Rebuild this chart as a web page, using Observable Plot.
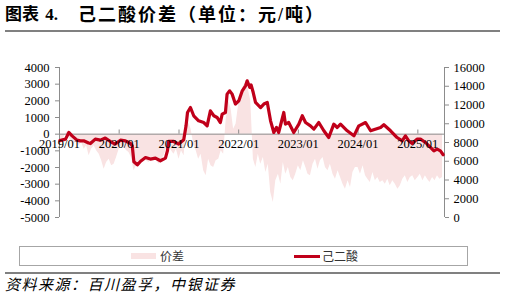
<!DOCTYPE html>
<html><head><meta charset="utf-8">
<script src="https://cdn.jsdelivr.net/npm/d3@7"></script>
<script src="https://cdn.jsdelivr.net/npm/@observablehq/plot@0.6"></script>
<style>
html,body{margin:0;padding:0;background:#fff}
body{width:505px;height:299px;position:relative;overflow:hidden}
.tt{position:absolute;top:3px;font-weight:bold;font-family:"Liberation Serif","Noto Sans CJK SC",serif;white-space:pre;color:#000;line-height:24px}
#title1{left:5px;font-size:17px;word-spacing:2px}
#title2{left:78px;font-size:18px;letter-spacing:2px}
.hr{position:absolute;left:5px;width:495px;height:2px;background:#808080}
#chart{position:absolute;left:0;top:33px}
#legend{position:absolute;left:19px;top:246px;width:447px;height:18px;border:1px solid #a6a6a6;box-sizing:content-box}
.lg{position:absolute;font-family:"Noto Sans CJK SC",sans-serif;font-size:12px;color:#333;top:1px;line-height:16px}
#source{position:absolute;left:5px;top:275px;font-family:"Noto Sans CJK SC",sans-serif;font-style:italic;font-size:15px;letter-spacing:1.5px;color:#000;line-height:18px}
</style></head><body>
<div id="title1" class="tt"></div>
<div id="title2" class="tt"></div>
<div class="hr" style="top:30px"></div>
<div id="chart"></div>
<div id="legend"></div>
<div class="hr" style="top:272px"></div>
<div id="source"></div>
<script>
const titleLabel = "图表 4.";
const titleText = "己二酸价差（单位：元/吨）";
const sourceText = "资料来源：百川盈孚，中银证券";
const seriesNames = ["价差", "己二酸"];

const leftTicks = [4000, 3000, 2000, 1000, 0, -1000, -2000, -3000, -4000, -5000];
const rightTicks = [16000, 14000, 12000, 10000, 8000, 6000, 4000, 2000, 0];
const yearDates = ["2019-01-01","2020-01-01","2021-01-01","2022-01-01","2023-01-01","2024-01-01","2025-01-01"];
const yearLabels = ["2019/01","2020/01","2021/01","2022/01","2023/01","2024/01","2025/01"];

// 己二酸 price (right axis, 元/吨)
const priceDates = ["2019-01-03","2019-02-07","2019-02-27","2019-03-19","2019-04-18","2019-05-09","2019-05-29","2019-06-28","2019-07-09","2019-08-08",
"2019-09-08","2019-10-08","2019-11-18","2019-12-08","2020-01-09","2020-02-08","2020-03-10","2020-03-21","2020-03-31","2020-04-21",
"2020-05-11","2020-06-10","2020-07-10","2020-08-10","2020-09-09","2020-10-10","2020-10-22","2020-10-30","2020-11-30","2020-12-30",
"2021-01-30","2021-02-13","2021-02-22","2021-03-12","2021-04-01","2021-05-01","2021-06-01","2021-06-22","2021-07-12","2021-08-02",
"2021-08-22","2021-09-11","2021-09-22","2021-10-12","2021-10-22","2021-11-07","2021-11-22","2021-12-12","2022-01-02","2022-01-23",
"2022-02-12","2022-02-22","2022-03-10","2022-03-18","2022-03-31","2022-04-14","2022-05-15","2022-06-04","2022-06-25","2022-07-15",
"2022-08-04","2022-08-20","2022-09-03","2022-10-04","2022-10-14","2022-11-03","2022-12-04","2023-01-04","2023-01-25","2023-02-14",
"2023-03-16","2023-04-06","2023-05-06","2023-06-06","2023-07-06","2023-08-06","2023-08-27","2023-09-16","2023-10-27","2023-12-07",
"2024-01-06","2024-02-16","2024-03-18","2024-05-18","2024-06-07","2024-07-18","2024-08-27","2024-09-27","2024-10-17","2024-11-06",
"2024-11-27","2024-12-27","2025-01-17","2025-02-17","2025-03-19","2025-04-09","2025-04-29","2025-05-19","2025-06-05"];
const priceValues = [8200,8360,9070,8710,8250,8180,8180,7940,7890,8360,
8250,8470,8000,7830,8250,8180,7890,7650,5940,5620,
6000,6400,6230,6330,6050,6330,7100,8130,8110,7830,
8290,9780,11200,11730,10850,10310,10130,9780,11380,10850,
10670,10130,11030,11200,13160,13510,13160,12100,12450,13510,
14050,14580,13870,14150,13330,12270,11730,12100,12270,10310,
9070,9600,9070,11200,9960,10130,9070,9960,10850,10130,
9780,9430,10130,9250,8530,9960,9600,9960,9250,8710,
9780,10130,9250,9600,9890,9250,8530,8180,8710,8180,
7890,8360,8360,8000,7470,7110,7300,7110,6690];

// 价差 (left axis), two readings per month (1st, 16th)
const spread2019 = [-300,-500,-100,150,-200,-500,-600,-400,-700,-500,-900,-700,-1300,-900,-700,-1000,-1200,-1600,-2100,-1700,-1500,-1900,-1800,-1400];
const spread2020 = [-900,-700,-800,-1000,-1100,-1400,-2200,-1900,-1700,-1500,-1400,-1600,-1700,-1500,-1400,-1600,-1800,-1500,-1300,-900,-700,-1000,-1200,-900];
const spread2021 = [-1500,-1000,-1300,400,700,300,-600,-1000,-1500,-1200,-2200,-2500,-1500,-1900,-2000,-1600,-1500,-1000,-1200,800,2000,1500,300,600];
const spread2022 = [1800,2500,2900,3100,2700,2000,-1500,-2000,-1200,-1800,-1400,-2300,-1800,-3500,-4100,-2800,-2400,-3000,-1700,-2400,-2000,-2600,-2800,-2400];
const spread2023 = [-1900,-2200,-1600,-2000,-2400,-2500,-1800,-1500,-2100,-1600,-1400,-2000,-2200,-1800,-2400,-2700,-2200,-2600,-3000,-3300,-2800,-3200,-2300,-2000];
const spread2024 = [-2000,-2400,-1900,-2500,-2700,-2900,-2300,-2800,-2600,-2900,-2800,-3000,-2700,-3100,-2800,-3000,-3300,-3100,-2700,-2500,-2900,-2600,-2500,-2800];
const spread2025 = [-2600,-2400,-2800,-2500,-2700,-2900,-2600,-2800,-2500,-2700,-2600];
const spreadYears = [[2019,spread2019],[2020,spread2020],[2021,spread2021],[2022,spread2022],[2023,spread2023],[2024,spread2024],[2025,spread2025]];

const colors = {spread: "#f9e3e3", price: "#c0001a", axis: "#8c8c8c"};

const spread = [];
for (const [yr, vals] of spreadYears) vals.forEach((v, i) => spread.push({date: new Date(Date.UTC(yr, Math.floor(i/2), i % 2 ? 16 : 1)), value: v}));
const leftMin = -5000, leftMax = 4000, rightMax = 16000;
const toLeft = v => v * (leftMax - leftMin) / rightMax + leftMin;
const toRight = v => Math.round((v - leftMin) * rightMax / (leftMax - leftMin));
const price = priceDates.map((d, i) => ({date: new Date(d), value: toLeft(priceValues[i])}));
const years = yearDates.map(d => new Date(d));
const x0 = new Date("2019-01-01"), x1 = new Date("2025-06-13");

document.getElementById("title1").textContent = titleLabel;
document.getElementById("title2").textContent = titleText;
document.getElementById("source").textContent = sourceText;

const chart = Plot.plot({
  width: 505, height: 205,
  marginLeft: 59, marginRight: 61, marginTop: 34, marginBottom: 21,
  style: {fontFamily: "'Liberation Serif', serif", fontSize: "12.5px", color: "#000", background: "transparent", overflow: "visible"},
  x: {type: "utc", domain: [x0, x1], axis: null},
  y: {domain: [leftMin, leftMax], axis: null},
  marks: [
    Plot.areaY(spread, {x: "date", y: "value", fill: colors.spread, curve: "linear"}),
    Plot.ruleY([0], {stroke: colors.axis}),
    Plot.ruleX([x0], {stroke: colors.axis}),
    Plot.ruleX([x1], {stroke: colors.axis}),
    Plot.ruleX(years, {x: d => d, y1: 0, y2: 250, stroke: colors.axis}),
    Plot.axisY({anchor: "left", ticks: leftTicks, tickSize: 4, tickPadding: 6, stroke: colors.axis, fill: "#000", label: null, tickFormat: d => String(d)}),
    Plot.axisY({anchor: "right", ticks: rightTicks.map(toLeft), tickSize: 4, tickPadding: 5, stroke: colors.axis, fill: "#000", label: null, tickFormat: d => String(toRight(d))}),
    Plot.line(price, {x: "date", y: "value", stroke: colors.price, strokeWidth: 3.2, strokeLinejoin: "round"}),
    Plot.text(years, {x: d => d, y: 0, text: (d, i) => yearLabels[i], lineAnchor: "top", dy: 5, fill: "#000"})
  ]
});
document.getElementById("chart").appendChild(chart);

const lg = document.getElementById("legend");
lg.innerHTML = `
<div style="position:absolute;left:111px;top:6px;width:25px;height:6px;background:${colors.spread}"></div>
<div class="lg" style="left:140px">${seriesNames[0]}</div>
<div style="position:absolute;left:274px;top:8px;width:26px;height:3px;background:${colors.price}"></div>
<div class="lg" style="left:302px">${seriesNames[1]}</div>`;
</script>
</body></html>
